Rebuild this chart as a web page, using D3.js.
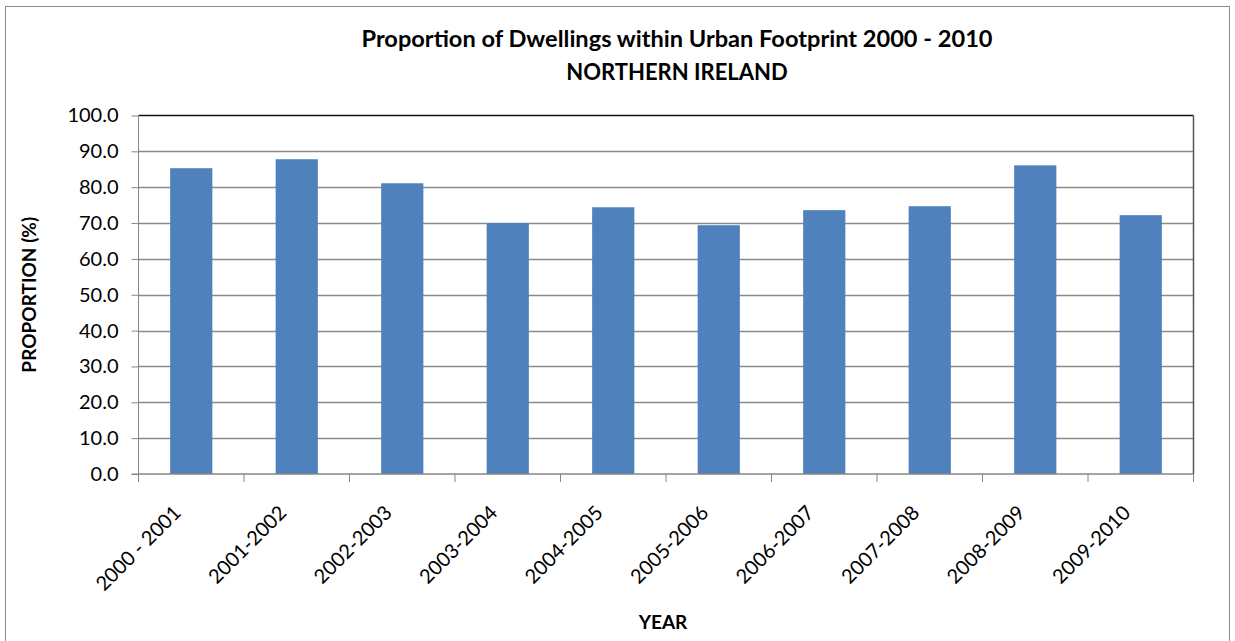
<!DOCTYPE html>
<html>
<head>
<meta charset="utf-8">
<script src="https://cdn.jsdelivr.net/npm/d3@7"></script>
<style>
  body { margin: 0; background: #fff; }
  svg { display: block; }
  text { font-family: Lato, 'Open Sans', sans-serif; fill: #000; }
</style>
</head>
<body>
<div class="chart"></div>
<script>
const years = ['2000 - 2001', '2001-2002', '2002-2003', '2003-2004', '2004-2005',
    '2005-2006', '2006-2007', '2007-2008', '2008-2009', '2009-2010'];
const proportion = [85.3, 87.8, 81.1, 70.0, 74.4, 69.4, 73.6, 74.7, 86.1, 72.2];
const y_ticks = [0, 10, 20, 30, 40, 50, 60, 70, 80, 90, 100];

const width = 1235, height = 641;
let padding = {'left': 138.5, 'right': width - 1193.5, 'top': 115.5, 'bottom': height - 474};

let svg = d3.select('.chart')
    .append('svg')
    .attr('width', width)
    .attr('height', height);

// chart frame
svg.append('rect')
    .attr('x', 5.5).attr('y', 6.5)
    .attr('width', 1224).attr('height', 650)
    .attr('fill', 'none')
    .attr('stroke', '#8c8c8c');

let x = d3.scaleBand()
    .domain(years)
    .range([padding.left, width - padding.right])
    .paddingInner(0.6)
    .paddingOuter(0.3);

let y = d3.scaleLinear()
    .domain([0, 100])
    .range([height - padding.bottom, padding.top]);

// gridlines
svg.append('g')
    .selectAll('line')
    .data(y_ticks.slice(1, -1))
    .enter().append('line')
    .attr('x1', padding.left).attr('x2', width - padding.right)
    .attr('y1', d => Math.round(y(d)) + 0.5).attr('y2', d => Math.round(y(d)) + 0.5)
    .attr('stroke', '#8a8a8a')
    .attr('stroke-width', 1.3);

// plot frame top / right
svg.append('line')
    .attr('x1', padding.left).attr('x2', width - padding.right)
    .attr('y1', padding.top).attr('y2', padding.top)
    .attr('stroke', '#111').attr('stroke-width', 1.5);
svg.append('line')
    .attr('x1', width - padding.right).attr('x2', width - padding.right)
    .attr('y1', padding.top).attr('y2', height - padding.bottom)
    .attr('stroke', '#555').attr('stroke-width', 1.5);

// bars
svg.append('g')
    .selectAll('rect')
    .data(proportion)
    .enter().append('rect')
    .attr('x', (d, i) => x(years[i]))
    .attr('y', d => y(d))
    .attr('width', x.bandwidth())
    .attr('height', d => y(0) - y(d))
    .attr('fill', '#4f81bd');

// y axis
let axis_y = d3.axisLeft(y)
    .tickValues(y_ticks)
    .tickFormat(d3.format('.1f'))
    .tickSize(7)
    .tickPadding(13);
let gy = svg.append('g')
    .attr('transform', `translate(${padding.left}, 0)`)
    .call(axis_y)
    .attr('font-family', 'Lato, sans-serif')
    .attr('font-size', '20px');
gy.selectAll('line, path').attr('stroke', '#868686');
gy.select('.domain').attr('d', `M-7,${y(0)}H0V${y(100)}`);

// x axis: ticks at category boundaries
let boundaries = d3.range(years.length + 1).map(i => padding.left + i * (width - padding.left - padding.right) / years.length);
let gx = svg.append('g');
gx.append('line')
    .attr('x1', padding.left).attr('x2', width - padding.right)
    .attr('y1', y(0)).attr('y2', y(0))
    .attr('stroke', '#868686').attr('stroke-width', 1.3);
gx.selectAll('.tick')
    .data(boundaries)
    .enter().append('line')
    .attr('x1', d => d).attr('x2', d => d)
    .attr('y1', y(0)).attr('y2', y(0) + 8)
    .attr('stroke', '#868686');
gx.selectAll('text')
    .data(years)
    .enter().append('text')
    .attr('transform', d => `translate(${x(d) + x.bandwidth() / 2 - 9}, ${y(0) + 40}) rotate(-45)`)
    .attr('text-anchor', 'end')
    .attr('font-size', '20px')
    .text(d => d);

// titles
svg.append('text')
    .attr('x', 677).attr('y', 47)
    .attr('text-anchor', 'middle')
    .attr('font-weight', 'bold')
    .attr('font-size', '22px')
    .attr('textLength', 631)
    .attr('lengthAdjust', 'spacingAndGlyphs')
    .text('Proportion of Dwellings within Urban Footprint 2000 - 2010');
svg.append('text')
    .attr('x', 677).attr('y', 80)
    .attr('text-anchor', 'middle')
    .attr('font-weight', 'bold')
    .attr('font-size', '22px')
    .text('NORTHERN IRELAND');

svg.append('text')
    .attr('x', 663).attr('y', 629)
    .attr('text-anchor', 'middle')
    .attr('font-weight', 'bold')
    .attr('font-size', '19px')
    .text('YEAR');

svg.append('text')
    .attr('transform', `translate(36, ${(y(0) + y(100)) / 2}) rotate(-90)`)
    .attr('text-anchor', 'middle')
    .attr('font-weight', 'bold')
    .attr('font-size', '19px')
    .text('PROPORTION (%)');
</script>
</body>
</html>
